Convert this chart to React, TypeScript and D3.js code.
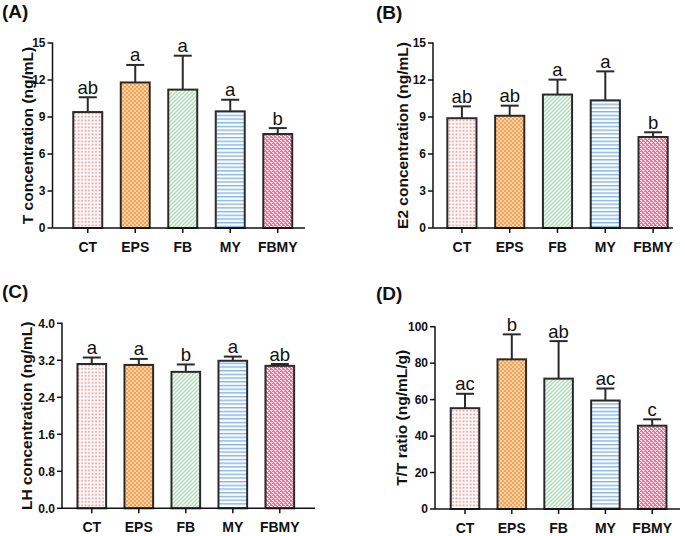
import React from "react";
import * as d3 from "d3";

const categories = ["CT", "EPS", "FB", "MY", "FBMY"];

const tMean = [9.4, 11.8, 11.22, 9.46, 7.62];
const tSd = [1.2, 1.42, 2.75, 0.94, 0.48];
const tLetters = ["ab", "a", "a", "a", "b"];
const tTicks = [0, 3, 6, 9, 12, 15];

const e2Mean = [8.9, 9.1, 10.82, 10.35, 7.38];
const e2Sd = [0.96, 0.82, 1.21, 2.35, 0.38];
const e2Letters = ["ab", "ab", "a", "a", "b"];
const e2Ticks = [0, 3, 6, 9, 12, 15];

const lhMean = [3.12, 3.1, 2.95, 3.19, 3.08];
const lhSd = [0.14, 0.13, 0.16, 0.09, 0.04];
const lhLetters = ["a", "a", "b", "a", "ab"];
const lhTicks = [0, 0.8, 1.6, 2.4, 3.2, 4.0];

const ttMean = [55.3, 82.1, 71.5, 59.5, 45.7];
const ttSd = [7.9, 13.7, 20.6, 6.6, 3.5];
const ttLetters = ["ac", "b", "ab", "ac", "c"];
const ttTicks = [0, 20, 40, 60, 80, 100];

const FONT = "'Liberation Sans', Arial, Helvetica, sans-serif";
const patterns = ["pCT", "pEPS", "pFB", "pMY", "pFBMY"];

type PanelProps = {
  tag: string;
  tagX: number;
  tagY: number;
  yTitle: string;
  titleX: number;
  axisX: number;
  axisEnd: number;
  y0: number;
  yTop: number;
  bandStart: number;
  step: number;
  domainMax: number;
  ticks: number[];
  fmt: (v: number) => string;
  mean: number[];
  sd: number[];
  letters: string[];
};

function Panel(p: PanelProps) {
  const y = d3.scaleLinear().domain([0, p.domainMax]).range([p.y0, p.yTop]);
  const x = d3
    .scaleBand<string>()
    .domain(categories)
    .range([p.bandStart, p.bandStart + p.step * categories.length])
    .paddingInner(0.39)
    .paddingOuter(0.195);
  const bw = x.bandwidth();
  const ink = "#2a2a2a";
  return (
    <g>
      <text x={p.tagX} y={p.tagY} fontFamily={FONT} fontWeight="bold" fontSize={19} fill="#111">
        {p.tag}
      </text>
      <text
        transform={`translate(${p.titleX},${(p.y0 + p.yTop) / 2}) rotate(-90)`}
        textAnchor="middle"
        dominantBaseline="central"
        fontFamily={FONT}
        fontWeight="bold"
        fontSize={15.5}
        fill="#111"
      >
        {p.yTitle}
      </text>
      {categories.map((c, i) => {
        const cx = (x(c) as number) + bw / 2;
        const top = y(p.mean[i]);
        const errTop = y(p.mean[i] + p.sd[i]);
        return (
          <g key={c}>
            <line x1={cx} x2={cx} y1={top} y2={errTop} stroke={ink} strokeWidth={2} />
            <line x1={cx - 9} x2={cx + 9} y1={errTop} y2={errTop} stroke={ink} strokeWidth={2} />
            <rect
              x={x(c)}
              y={top}
              width={bw}
              height={p.y0 - top}
              fill={`url(#${patterns[i]})`}
              stroke={ink}
              strokeWidth={2}
            />
            <text
              x={cx}
              y={errTop - 3.5}
              textAnchor="middle"
              fontFamily={FONT}
              fontSize={18.5}
              fill="#111"
            >
              {p.letters[i]}
            </text>
            <line x1={cx} x2={cx} y1={p.y0} y2={p.y0 + 5} stroke="#111" strokeWidth={1.5} />
            <text
              x={cx}
              y={p.y0 + 24}
              textAnchor="middle"
              fontFamily={FONT}
              fontWeight="bold"
              fontSize={14}
              fill="#111"
            >
              {c}
            </text>
          </g>
        );
      })}
      <line x1={p.axisX} x2={p.axisX} y1={p.y0} y2={p.yTop - 0.5} stroke="#111" strokeWidth={1.5} />
      <line x1={p.axisX} x2={p.axisEnd} y1={p.y0} y2={p.y0} stroke="#111" strokeWidth={1.5} />
      {p.ticks.map((t) => (
        <g key={t}>
          <line x1={p.axisX - 5} x2={p.axisX} y1={y(t)} y2={y(t)} stroke="#111" strokeWidth={1.5} />
          <text
            x={p.axisX - 7}
            y={y(t)}
            dy="0.35em"
            textAnchor="end"
            fontFamily={FONT}
            fontWeight="bold"
            fontSize={12}
            fill="#111"
          >
            {p.fmt(t)}
          </text>
        </g>
      ))}
    </g>
  );
}

export default function App() {
  const f0 = d3.format("d");
  const f1 = d3.format(".1f");
  return (
    <svg
      width={685}
      height={536}
      style={{ position: "absolute", left: 0, top: 0, background: "#fff" }}
    >
      <defs>
        <pattern id="pCT" patternUnits="userSpaceOnUse" width={3.5} height={3.5}>
          <rect width={3.5} height={3.5} fill="#fff" />
          <rect x={0.5} y={0.5} width={2} height={1.7} fill="#f29a9a" />
        </pattern>
        <pattern id="pEPS" patternUnits="userSpaceOnUse" width={4} height={4}>
          <rect width={4} height={4} fill="#f5a256" />
          <rect x={0} y={0} width={2} height={2} fill="#fcd3a6" />
          <rect x={2} y={2} width={2} height={2} fill="#fcd3a6" />
        </pattern>
        <pattern id="pFB" patternUnits="userSpaceOnUse" width={4} height={4}>
          <rect width={4} height={4} fill="#fff" />
          <path d="M-1,1 l2,-2 M0,4 l4,-4 M3,5 l2,-2" stroke="#a9dbb5" strokeWidth={1.3} />
        </pattern>
        <pattern id="pMY" patternUnits="userSpaceOnUse" width={4} height={3.7}>
          <rect width={4} height={3.7} fill="#fff" />
          <rect y={0} width={4} height={1.4} fill="#82b4ee" />
        </pattern>
        <pattern id="pFBMY" patternUnits="userSpaceOnUse" width={4} height={4}>
          <rect width={4} height={4} fill="#f07197" />
          <rect x={0} y={0} width={2} height={1} fill="#fde0e8" />
          <rect x={1} y={1} width={1} height={1} fill="#fde0e8" />
          <rect x={2} y={2} width={2} height={1} fill="#fde0e8" />
          <rect x={3} y={3} width={1} height={1} fill="#fde0e8" />
          <rect x={0} y={2} width={1} height={1} fill="#f8b0c4" />
        </pattern>
      </defs>
      <Panel
        tag="(A)"
        tagX={2}
        tagY={18}
        yTitle="T concentration (ng/mL)"
        titleX={27}
        axisX={52.5}
        axisEnd={305}
        y0={228}
        yTop={43}
        bandStart={64}
        step={47.5}
        domainMax={15}
        ticks={tTicks}
        fmt={f0}
        mean={tMean}
        sd={tSd}
        letters={tLetters}
      />
      <Panel
        tag="(B)"
        tagX={376}
        tagY={19}
        yTitle="E2 concentration (ng/mL)"
        titleX={402}
        axisX={433}
        axisEnd={673}
        y0={228}
        yTop={43}
        bandStart={438}
        step={47.8}
        domainMax={15}
        ticks={e2Ticks}
        fmt={f0}
        mean={e2Mean}
        sd={e2Sd}
        letters={e2Letters}
      />
      <Panel
        tag="(C)"
        tagX={2}
        tagY={298}
        yTitle="LH concentration (ng/mL)"
        titleX={26}
        axisX={62}
        axisEnd={315}
        y0={508.3}
        yTop={323.3}
        bandStart={68.3}
        step={47}
        domainMax={4}
        ticks={lhTicks}
        fmt={f1}
        mean={lhMean}
        sd={lhSd}
        letters={lhLetters}
      />
      <Panel
        tag="(D)"
        tagX={376}
        tagY={300}
        yTitle="T/T ratio (ng/mL/g)"
        titleX={401}
        axisX={435}
        axisEnd={680}
        y0={509}
        yTop={326.7}
        bandStart={441.6}
        step={46.8}
        domainMax={100}
        ticks={ttTicks}
        fmt={f0}
        mean={ttMean}
        sd={ttSd}
        letters={ttLetters}
      />
    </svg>
  );
}
